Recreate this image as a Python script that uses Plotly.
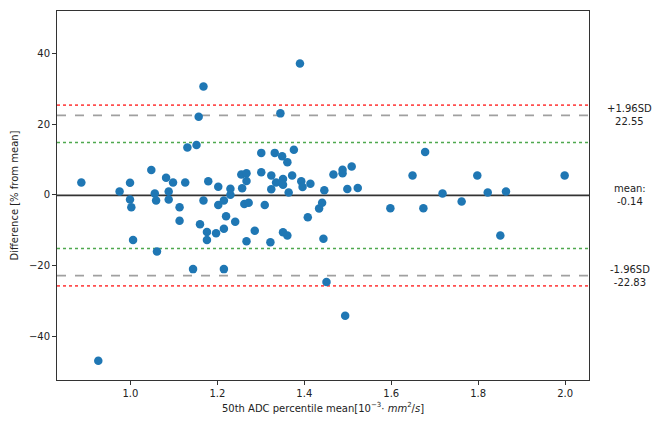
import plotly.graph_objects as go

# ADC percentile mean (x) and percentage difference (y)
adc_mean = [0.887, 0.926, 0.975, 0.999, 0.999, 1.002, 1.006, 1.048, 1.056, 1.059,
            1.061, 1.082, 1.088, 1.088, 1.098, 1.113, 1.113, 1.126, 1.131, 1.152,
            1.157, 1.160, 1.144, 1.168, 1.168, 1.179, 1.176, 1.176, 1.197, 1.202,
            1.202, 1.215, 1.215, 1.215, 1.220, 1.230, 1.230, 1.241, 1.255, 1.267,
            1.267, 1.257, 1.262, 1.272, 1.267, 1.286, 1.301, 1.301, 1.309, 1.322,
            1.324, 1.324, 1.332, 1.335, 1.345, 1.349, 1.351, 1.351, 1.351, 1.361,
            1.361, 1.364, 1.372, 1.376, 1.390, 1.393, 1.396, 1.414, 1.408, 1.434,
            1.441, 1.444, 1.446, 1.451, 1.467, 1.488, 1.488, 1.509, 1.499, 1.523,
            1.494, 1.598, 1.649, 1.674, 1.678, 1.718, 1.762, 1.798, 1.822, 1.851,
            1.864, 1.999]
pct_diff = [3.55, -46.98, 1.01, 3.47, -1.27, -3.49, -12.74, 7.05, 0.42, -1.55,
            -15.98, 4.88, 0.99, -1.27, 3.52, -3.49, -7.30, 3.52, 13.42, 14.12,
            22.13, -8.31, -21.0, -1.55, 30.72, 3.89, -10.48, -12.74, -10.85, 2.34,
            -2.82, -1.55, -9.55, -21.0, -6.03, 1.78, 0.03, -7.58, 5.81, 6.14,
            3.95, 1.92, -2.54, -2.23, -13.08, -10.15, 11.92, 6.43, -2.82, -13.36,
            5.50, 1.63, 11.92, 3.52, 23.11, 10.94, 4.54, 2.90, -10.54, -11.47,
            9.30, 0.70, 5.50, 12.82, 37.20, 3.89, 2.28, 3.18, -6.34, -3.80,
            -2.23, -12.40, 1.35, -24.63, 5.81, 7.13, 6.14, 8.06, 1.69, 1.97,
            -34.22, -3.78, 5.50, -3.78, 12.20, 0.42, -1.83, 5.50, 0.73, -11.47,
            1.01, 5.50]

mean_diff = -0.14
upper_loa = 22.55
lower_loa = -22.83
upper_red = 25.45
lower_red = -25.73
upper_green = 14.86
lower_green = -15.14

x_ticks = [1.0, 1.2, 1.4, 1.6, 1.8, 2.0]
y_ticks = [-40, -20, 0, 20, 40]

fig = go.Figure()
fig.add_trace(go.Scatter(
    x=adc_mean, y=pct_diff, mode="markers",
    marker=dict(color="#1f77b4", size=8.5, line=dict(width=0)),
    showlegend=False, hoverinfo="x+y"))

def hline(y, color, dash, width):
    fig.add_shape(type="line", xref="paper", x0=0, x1=1, yref="y", y0=y, y1=y,
                  line=dict(color=color, dash=dash, width=width), layer="below")

hline(upper_red, "rgba(255,60,60,0.9)", "dot", 1.6)
hline(lower_red, "rgba(255,60,60,0.9)", "dot", 1.6)
hline(upper_green, "rgba(60,160,60,0.9)", "dot", 1.6)
hline(lower_green, "rgba(60,160,60,0.9)", "dot", 1.6)
hline(upper_loa, "rgba(128,128,128,0.75)", "dash", 1.6)
hline(lower_loa, "rgba(128,128,128,0.75)", "dash", 1.6)
hline(mean_diff, "rgba(40,40,40,0.95)", "solid", 1.8)

font = dict(family="DejaVu Sans", size=10, color="#222")
for y, label in [(upper_loa, "+1.96SD<br>%.2f" % upper_loa),
                 (mean_diff, "mean:<br>%.2f" % mean_diff),
                 (lower_loa, "-1.96SD<br>%.2f" % lower_loa)]:
    fig.add_annotation(xref="paper", x=1.077, yref="y", y=y, text=label,
                       showarrow=False, xanchor="center", yanchor="middle",
                       align="center", font=font)

axis_common = dict(showline=True, linecolor="#333", linewidth=1, mirror=True,
                   ticks="outside", ticklen=4, tickwidth=1, tickcolor="#333",
                   showgrid=False, zeroline=False, tickfont=font)

fig.update_xaxes(range=[0.831, 2.055], tickvals=x_ticks,
                 ticktext=["%.1f" % v for v in x_ticks],
                 title=dict(text="50th ADC percentile mean[10<sup>−3</sup>· <i>mm</i><sup>2</sup>/<i>s</i>]",
                            font=font, standoff=6), **axis_common)
fig.update_yaxes(range=[-52.4, 52.1], tickvals=y_ticks,
                 title=dict(text="Difference [% from mean]", font=font, standoff=8),
                 **axis_common)

fig.update_layout(width=652, height=422,
                  margin=dict(l=57, r=63, t=10, b=41),
                  paper_bgcolor="white", plot_bgcolor="white",
                  font=font)

fig.write_html("out.html", config={"displayModeBar": False},
               post_script="document.body.style.margin='0';document.body.style.overflow='hidden';")
